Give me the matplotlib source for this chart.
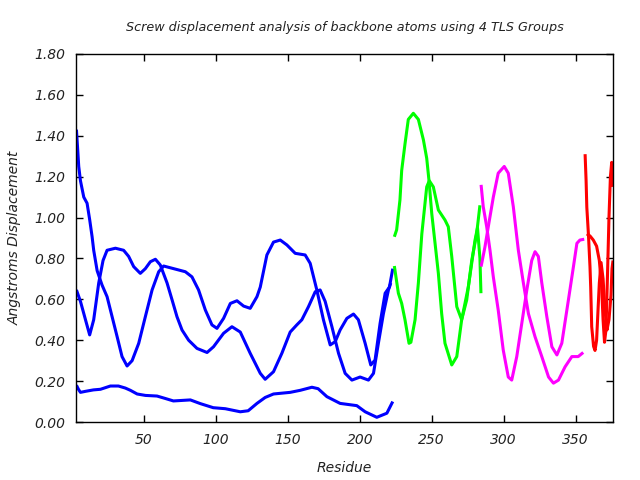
import matplotlib
matplotlib.use("Agg")
import matplotlib.pyplot as plt
from matplotlib.ticker import FormatStrFormatter

# ---- data (residue, displacement) ----
blue1_x = [3.0, 3.9, 4.6, 5.8, 8.1, 10.4, 12.2, 13.9, 15.0, 17.4, 20.8, 24.3, 27.8, 31.3, 34.7, 38.2, 41.7, 46.3, 50.9, 55.6, 60.2, 63.6, 70.6, 78.7, 83.3, 87.9, 92.6, 97.2, 100.7, 105.3, 110.0, 114.6, 119.2, 123.8, 128.5, 130.8, 135.4, 140.0, 144.7, 149.3, 155.1, 162.0, 165.5, 170.1, 174.7, 179.4, 182.9, 186.3, 191.0, 195.6, 199.0, 203.7, 207.6, 210.6, 214.1, 217.6, 220.6, 222.9]
blue1_y = [1.43, 1.33, 1.25, 1.18, 1.10, 1.07, 0.99, 0.906, 0.84, 0.74, 0.67, 0.613, 0.515, 0.417, 0.32, 0.274, 0.30, 0.385, 0.515, 0.646, 0.735, 0.763, 0.75, 0.735, 0.71, 0.646, 0.548, 0.475, 0.458, 0.507, 0.58, 0.593, 0.567, 0.556, 0.613, 0.66, 0.817, 0.88, 0.89, 0.866, 0.825, 0.817, 0.776, 0.646, 0.50, 0.377, 0.393, 0.45, 0.507, 0.528, 0.50, 0.385, 0.279, 0.303, 0.483, 0.63, 0.66, 0.75]

blue2_x = [3.0, 5.8, 9.3, 12.2, 15.0, 18.5, 21.5, 24.3, 30.1, 35.8, 39.3, 42.8, 47.4, 50.9, 54.4, 57.9, 61.3, 66.0, 69.5, 72.9, 76.4, 81.0, 86.8, 93.8, 98.3, 105.3, 111.1, 116.9, 123.8, 130.8, 134.2, 140.0, 145.8, 151.6, 156.2, 159.7, 164.3, 169.0, 172.4, 175.9, 180.6, 185.2, 189.8, 194.5, 200.2, 206.0, 209.5, 212.9, 216.4, 219.9, 221.5]
blue2_y = [0.646, 0.59, 0.50, 0.426, 0.50, 0.68, 0.79, 0.84, 0.85, 0.84, 0.81, 0.76, 0.727, 0.75, 0.784, 0.796, 0.768, 0.68, 0.597, 0.515, 0.45, 0.40, 0.36, 0.34, 0.368, 0.434, 0.466, 0.44, 0.336, 0.238, 0.209, 0.246, 0.336, 0.44, 0.475, 0.50, 0.564, 0.637, 0.646, 0.59, 0.466, 0.336, 0.238, 0.205, 0.22, 0.205, 0.238, 0.385, 0.53, 0.646, 0.68]

blue3_x = [3.0, 4.4, 5.8, 9.3, 14.8, 19.7, 26.6, 32.2, 37.0, 40.5, 45.2, 51.0, 59.0, 64.8, 70.4, 75.2, 82.2, 89.1, 98.1, 106.5, 116.9, 122.4, 128.5, 134.2, 140.0, 151.6, 158.6, 166.7, 171.0, 177.1, 186.3, 197.9, 203.7, 211.8, 218.8, 222.9]
blue3_y = [0.18, 0.16, 0.145, 0.15, 0.157, 0.16, 0.176, 0.176, 0.166, 0.155, 0.137, 0.13, 0.127, 0.115, 0.103, 0.105, 0.108, 0.09, 0.07, 0.065, 0.05, 0.055, 0.091, 0.12, 0.137, 0.145, 0.155, 0.17, 0.163, 0.124, 0.091, 0.08, 0.05, 0.023, 0.043, 0.10]

green1_x = [224.0, 225.6, 227.9, 229.1, 231.4, 233.7, 237.2, 240.7, 244.2, 246.5, 248.1, 250.0, 252.3, 254.6, 256.9, 259.2, 263.9, 267.4, 270.8, 275.4, 280.1, 281.8, 283.5, 284.2]
green1_y = [0.906, 0.94, 1.086, 1.23, 1.36, 1.48, 1.51, 1.48, 1.38, 1.29, 1.18, 1.02, 0.874, 0.727, 0.53, 0.385, 0.279, 0.32, 0.50, 0.66, 0.89, 0.95, 0.80, 0.63]

green2_x = [224.0, 226.8, 229.1, 231.4, 234.2, 235.5, 238.4, 240.7, 243.1, 246.5, 248.3, 251.1, 254.6, 259.2, 261.5, 263.9, 267.4, 270.8, 274.3, 277.8, 281.2, 283.5]
green2_y = [0.763, 0.63, 0.58, 0.50, 0.385, 0.39, 0.50, 0.68, 0.92, 1.15, 1.18, 1.15, 1.037, 0.988, 0.955, 0.81, 0.564, 0.50, 0.597, 0.79, 0.92, 1.06]

magenta1_x = [284.3, 285.8, 288.2, 290.5, 292.8, 296.2, 299.7, 303.2, 305.6, 309.1, 312.6, 316.1, 319.5, 321.8, 324.1, 326.5, 330.0, 333.5, 337.0, 340.4, 345.0, 348.5, 350.9, 353.0, 356.0]
magenta1_y = [1.16, 1.053, 0.955, 0.84, 0.71, 0.548, 0.352, 0.22, 0.205, 0.32, 0.483, 0.646, 0.79, 0.833, 0.81, 0.68, 0.515, 0.368, 0.328, 0.385, 0.597, 0.76, 0.874, 0.89, 0.894]

magenta2_x = [284.3, 287.0, 289.3, 292.8, 296.2, 300.4, 303.2, 306.7, 310.2, 313.7, 317.2, 321.8, 326.5, 331.2, 334.6, 338.1, 342.7, 347.4, 351.8, 355.3]
magenta2_y = [0.76, 0.857, 0.955, 1.10, 1.217, 1.25, 1.217, 1.053, 0.84, 0.68, 0.53, 0.417, 0.32, 0.22, 0.19, 0.205, 0.27, 0.32, 0.32, 0.34]

red1_x = [356.6, 357.3, 357.8, 358.9, 360.0, 360.5, 361.2, 362.5, 363.5, 364.6, 365.6, 366.5, 367.7, 369.1, 370.4, 371.8, 373.2, 374.6, 375.3, 376.0]
red1_y = [1.31, 1.18, 1.05, 0.92, 0.76, 0.66, 0.466, 0.37, 0.35, 0.40, 0.55, 0.68, 0.78, 0.70, 0.55, 0.45, 0.50, 0.62, 0.75, 0.79]

red2_x = [357.8, 360.0, 362.3, 364.6, 366.5, 368.1, 369.1, 370.1, 371.1, 372.1, 373.2, 374.2, 375.1, 376.0]
red2_y = [0.92, 0.91, 0.89, 0.86, 0.79, 0.66, 0.50, 0.39, 0.45, 0.70, 1.00, 1.20, 1.27, 1.15]

x_ticks = [50, 100, 150, 200, 250, 300, 350]
y_ticks = [0.0, 0.2, 0.4, 0.6, 0.8, 1.0, 1.2, 1.4, 1.6, 1.8]

title = "Screw displacement analysis of backbone atoms using 4 TLS Groups"
xlabel = "Residue"
ylabel = "Angstroms Displacement"

# ---- figure ----
plt.rcParams['font.family'] = ['DejaVu Sans']
fig = plt.figure(figsize=(6.4, 4.8), dpi=100)
ax = fig.add_axes([76/640, 58/480, (613-76)/640, (422-54)/480])

lw = 2.2
series = [
    (blue1_x, blue1_y, '#0000ff'), (blue2_x, blue2_y, '#0000ff'), (blue3_x, blue3_y, '#0000ff'),
    (green1_x, green1_y, '#00ff00'), (green2_x, green2_y, '#00ff00'),
    (magenta1_x, magenta1_y, '#ff00ff'), (magenta2_x, magenta2_y, '#ff00ff'),
    (red1_x, red1_y, '#ff0000'), (red2_x, red2_y, '#ff0000'),
]
for xs, ys, c in series:
    ax.plot(xs, ys, color=c, lw=lw, solid_joinstyle='round', solid_capstyle='butt')

ax.set_xlim(2.7, 376)
ax.set_ylim(0, 1.8)
ax.set_xticks(x_ticks)
ax.set_yticks(y_ticks)
ax.yaxis.set_major_formatter(FormatStrFormatter('%.2f'))
ax.tick_params(direction='in', length=5, width=1, top=True, right=True,
               labelsize=10, colors='black', labelcolor='#222222', pad=8)
for lab in ax.get_xticklabels() + ax.get_yticklabels():
    lab.set_fontstyle('italic')
for s in ax.spines.values():
    s.set_linewidth(1.0)
ax.set_xlabel(xlabel, fontsize=10, fontstyle='italic', labelpad=10, color='#222222')
ax.set_ylabel(ylabel, fontsize=10, fontstyle='italic', labelpad=9, color='#222222')
fig.text((76+613)/2/640, 1-27/480, title, ha='center', va='center', fontsize=9.2,
         fontstyle='italic', color='#222222')

fig.savefig("out.png", dpi=100)
